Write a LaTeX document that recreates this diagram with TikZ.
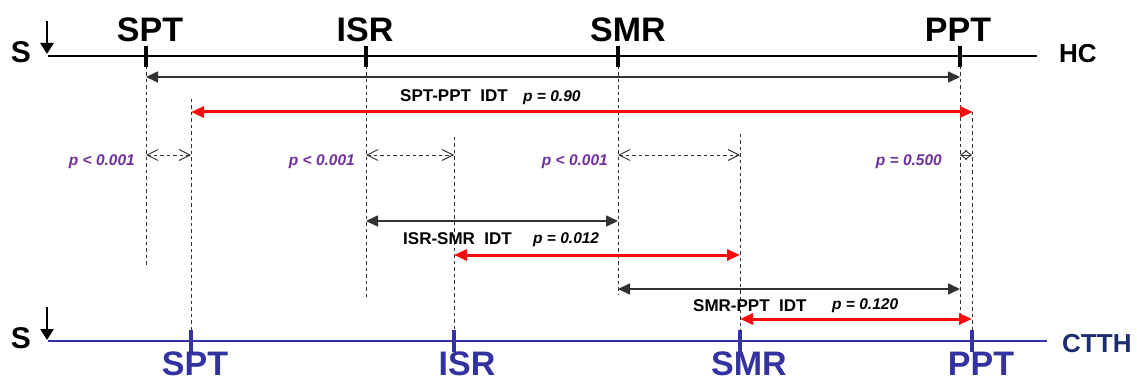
\documentclass[tikz,border=0pt]{standalone}
\usepackage{fontspec}
\setmainfont{Liberation Sans}
\usetikzlibrary{arrows.meta}
\definecolor{ptred}{RGB}{250,10,10}
\definecolor{ctblue}{RGB}{50,50,160}
\definecolor{ctnavy}{RGB}{30,45,110}
\definecolor{pval}{RGB}{112,48,160}
\definecolor{dgray}{RGB}{50,50,50}
\tikzset{
  bigtxt/.style={font=\bfseries\fontsize{34}{34}\selectfont, inner sep=0, anchor=base},
  axtxt/.style={font=\bfseries\fontsize{26}{26}\selectfont, inner sep=0, anchor=base west},
  stxt/.style={font=\bfseries\fontsize{30}{30}\selectfont, inner sep=0, anchor=base},
  idt/.style={font=\bfseries\fontsize{17}{17}\selectfont, inner sep=0, anchor=base west},
  pnum/.style={font=\bfseries\itshape\fontsize{15.5}{15.5}\selectfont, inner sep=0, anchor=base west},
  ppur/.style={font=\bfseries\itshape\fontsize{15.5}{15.5}\selectfont, text=pval, inner sep=0, anchor=base east},
  hcline/.style={line width=2.4pt, black},
  ctline/.style={line width=2.8pt, ctblue},
  hctick/.style={line width=4.5pt, black},
  cttick/.style={line width=4.5pt, ctblue},
  guide/.style={dgray, line width=0.9pt, dash pattern=on 3.5pt off 3pt},
  blackarr/.style={dgray, line width=1.6pt, {Triangle[length=12pt,width=11pt]}-{Triangle[length=12pt,width=11pt]}},
  redarr/.style={ptred, line width=3pt, {Triangle[length=13pt,width=11pt]}-{Triangle[length=13pt,width=11pt]}},
  cmparr/.style={dgray, line width=0.9pt, dash pattern=on 3.5pt off 3pt, {Straight Barb[length=11pt,width=11pt,line width=0.9pt]}-{Straight Barb[length=11pt,width=11pt,line width=0.9pt]}},
  sarr/.style={black, line width=2.6pt, -{Triangle[length=11pt,width=13pt]}},
}
\begin{document}
\begin{tikzpicture}[x=1pt,y=-1pt]
\useasboundingbox (0,0) rectangle (1137,382);

% ---------- HC axis ----------
\coordinate (hs) at (48,56);
\coordinate (he) at (1037,56);
\draw[hcline] (hs) -- (he);
\coordinate (hSPT) at (146,56);
\coordinate (hISR) at (366,56);
\coordinate (hSMR) at (618,56);
\coordinate (hPPT) at (960,56);
\foreach \n in {hSPT,hISR,hSMR,hPPT}{
  \draw[hctick] ([yshift=-11pt]\n) -- ([yshift=10pt]\n);
}
\node[bigtxt] (tSPT) at (150,42) {SPT};
\node[bigtxt] (tISR) at (365,42) {ISR};
\node[bigtxt] (tSMR) at (628,42) {SMR};
\node[bigtxt] (tPPT) at (958,42) {PPT};
\node[axtxt] (tHC) at (1059,63) {HC};
\node[stxt] (sTop) at (21,63) {S};
\coordinate (sa1) at (47,21);
\coordinate (sa2) at (47,54);
\draw[sarr] (sa1) -- (sa2);

% ---------- CTTH axis ----------
\coordinate (cs) at (48,341);
\coordinate (ce) at (1047,341);
\draw[ctline] (cs) -- (ce);
\coordinate (cSPT) at (191,341);
\coordinate (cISR) at (454,341);
\coordinate (cSMR) at (740,341);
\coordinate (cPPT) at (972,341);
\foreach \n in {cSPT,cISR,cSMR,cPPT}{
  \draw[cttick] ([yshift=-11pt]\n) -- ([yshift=11pt]\n);
}
\node[bigtxt, text=ctblue] (bSPT) at (195,375) {SPT};
\node[bigtxt, text=ctblue] (bISR) at (467,375) {ISR};
\node[bigtxt, text=ctblue] (bSMR) at (749,375) {SMR};
\node[bigtxt, text=ctblue] (bPPT) at (981,375) {PPT};
\node[axtxt, text=ctnavy] (tCTTH) at (1062,352) {CTTH};
\node[stxt] (sBot) at (21,348) {S};
\coordinate (sb1) at (47,307);
\coordinate (sb2) at (47,340);
\draw[sarr] (sb1) -- (sb2);

% ---------- dashed guide lines ----------
\coordinate (gSPTa) at (146,66);  \coordinate (gSPTb) at (146,265);
\coordinate (gISRa) at (366,66);  \coordinate (gISRb) at (366,297);
\coordinate (gSMRa) at (618,66);  \coordinate (gSMRb) at (618,295);
\coordinate (gPPTa) at (960,66);  \coordinate (gPPTb) at (960,318);
\coordinate (kSPTa) at (191,99);  \coordinate (kSPTb) at (191,330);
\coordinate (kISRa) at (454,137); \coordinate (kISRb) at (454,330);
\coordinate (kSMRa) at (740,134); \coordinate (kSMRb) at (740,330);
\coordinate (kPPTa) at (972,112); \coordinate (kPPTb) at (972,330);
\foreach \a/\b in {gSPTa/gSPTb,gISRa/gISRb,gSMRa/gSMRb,gPPTa/gPPTb,kSPTa/kSPTb,kISRa/kISRb,kSMRa/kSMRb,kPPTa/kPPTb}{
  \draw[guide] (\a) -- (\b);
}

% ---------- SPT-PPT ----------
\coordinate (b1l) at (146,77); \coordinate (b1r) at (960,77);
\draw[blackarr] (b1l) -- (b1r);
\coordinate (r1l) at (191,112); \coordinate (r1r) at (973,112);
\draw[redarr] (r1l) -- (r1r);
\node[idt] (l1) at (400,102) {SPT-PPT\hspace{0.55em}IDT};
\node[pnum] (p1) at (523,102) {p = 0.90};

% ---------- comparisons ----------
\coordinate (c1l) at (146,155); \coordinate (c1r) at (191,155);
\coordinate (c2l) at (366,155); \coordinate (c2r) at (454,155);
\coordinate (c3l) at (618,155); \coordinate (c3r) at (740,155);
\coordinate (c4l) at (960,155); \coordinate (c4r) at (972,155);
\draw[cmparr] (c1l) -- (c1r);
\draw[cmparr] (c2l) -- (c2r);
\draw[cmparr] (c3l) -- (c3r);
\draw[dgray, line width=0.9pt, {Straight Barb[length=6pt,width=9pt,line width=0.9pt]}-{Straight Barb[length=6pt,width=9pt,line width=0.9pt]}] (c4l) -- (c4r);
\node[ppur] (q1) at (135,166) {p < 0.001};
\node[ppur] (q2) at (355,166) {p < 0.001};
\node[ppur] (q3) at (608,166) {p < 0.001};
\node[ppur] (q4) at (942,166) {p = 0.500};

% ---------- ISR-SMR ----------
\coordinate (b2l) at (366,221); \coordinate (b2r) at (618,221);
\draw[blackarr] (b2l) -- (b2r);
\coordinate (r2l) at (454,255); \coordinate (r2r) at (740,255);
\draw[redarr] (r2l) -- (r2r);
\node[idt] (l2) at (403,244) {ISR-SMR\hspace{0.55em}IDT};
\node[pnum] (p2) at (533,243) {p = 0.012};

% ---------- SMR-PPT ----------
\coordinate (b3l) at (618,289); \coordinate (b3r) at (960,289);
\draw[blackarr] (b3l) -- (b3r);
\coordinate (r3l) at (740,319); \coordinate (r3r) at (972,319);
\draw[redarr] (r3l) -- (r3r);
\node[idt] (l3) at (693,311) {SMR-PPT\hspace{0.55em}IDT};
\node[pnum] (p3) at (832,309) {p = 0.120};
\end{tikzpicture}
\end{document}
